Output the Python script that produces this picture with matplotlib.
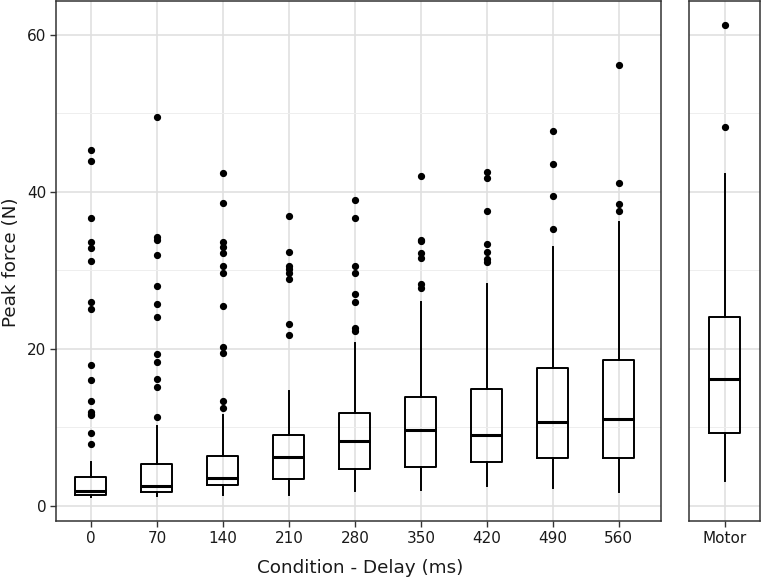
import matplotlib
matplotlib.use("Agg")
import matplotlib.pyplot as plt
import numpy as np

# ---------------- data ----------------
delay_labels = ["0", "70", "140", "210", "280", "350", "420", "490", "560"]

whislo = [1.05, 1.2, 1.3, 1.4, 1.9, 2.0, 2.5, 2.3, 1.75]
q1     = [1.36, 1.75, 2.63, 3.46, 4.7, 4.9, 5.6, 6.05, 6.14]
med    = [1.9, 2.46, 3.5, 6.2, 8.2, 9.7, 8.95, 10.6, 11.0]
q3     = [3.7, 5.35, 6.36, 9.0, 11.75, 13.8, 14.9, 17.5, 18.5]
whishi = [5.6, 10.1, 11.6, 14.6, 20.7, 25.9, 28.2, 32.9, 36.2]

outliers = [
    [45.3, 43.9, 36.6, 33.6, 32.8, 31.2, 26.0, 25.0, 17.9, 16.0, 13.4, 11.9, 11.7, 11.5, 9.2, 7.9],
    [49.5, 34.2, 33.9, 31.9, 28.0, 25.7, 24.1, 19.3, 18.3, 16.2, 15.1, 11.3],
    [42.4, 38.6, 33.6, 33.0, 32.2, 30.6, 29.6, 25.5, 20.2, 19.5, 13.3, 12.5],
    [36.9, 32.3, 30.6, 30.1, 29.6, 28.9, 23.2, 21.8],
    [38.9, 36.6, 30.6, 29.6, 27.0, 26.0, 22.6, 22.3],
    [42.0, 33.9, 33.7, 32.2, 31.6, 28.3, 27.7],
    [42.5, 41.8, 37.5, 33.3, 32.3, 31.4, 31.0],
    [47.8, 43.5, 39.5, 35.2],
    [56.1, 41.1, 38.4, 37.5],
]

motor_label = ["Motor"]
motor_whislo = [3.15]
motor_q1 = [9.26]
motor_med = [16.2]
motor_q3 = [24.0]
motor_whishi = [42.2]
motor_outliers = [[61.3, 48.2]]

y_label = "Peak force (N)"
x_label = "Condition - Delay (ms)"

# ---------------- style ----------------
W, H = 762, 578
DPI = 100
fig = plt.figure(figsize=(W / DPI, H / DPI), dpi=DPI)

def px_axes(x0, x1, y0, y1):
    return fig.add_axes([x0 / W, 1 - y1 / H, (x1 - x0) / W, (y1 - y0) / H])

ax1 = px_axes(56, 661, 1, 521)
ax2 = px_axes(689, 760, 1, 521)

grid_major = "#E0E0E0"
grid_minor = "#EEEEEE"
border = "#333333"
text_col = "#1A1A1A"
ylim = (-1.95, 64.3)

box_kw = dict(
    showfliers=True,
    widths=0.47,
    patch_artist=False,
    boxprops=dict(color="black", linewidth=1.4),
    whiskerprops=dict(color="black", linewidth=1.4),
    capprops=dict(linewidth=0),
    medianprops=dict(color="black", linewidth=2.2),
    flierprops=dict(marker="o", markerfacecolor="black", markeredgecolor="black",
                    markersize=4.2, linestyle="none"),
    manage_ticks=False,
)

def make_stats(labels, lo, a, m, b, hi, fl):
    stats = []
    for i in range(len(labels)):
        stats.append(dict(label=labels[i], whislo=lo[i], q1=a[i], med=m[i],
                          q3=b[i], whishi=hi[i], fliers=np.array(fl[i])))
    return stats

def style_axes(ax, n, xlim, show_y):
    ax.set_ylim(*ylim)
    ax.set_xlim(*xlim)
    ax.set_yticks([0, 20, 40, 60])
    ax.set_yticks([10, 30, 50], minor=True)
    ax.set_xticks(range(n))
    ax.set_axisbelow(True)
    ax.grid(True, which="major", axis="both", color=grid_major, linewidth=1.2)
    ax.grid(True, which="minor", axis="y", color=grid_minor, linewidth=0.7)
    for s in ax.spines.values():
        s.set_color(border)
        s.set_linewidth(1.1)
    ax.tick_params(axis="both", which="major", direction="out", length=4,
                   width=1.0, color=border, labelsize=11, labelcolor=text_col, pad=3)
    ax.tick_params(axis="y", which="minor", length=0)
    if not show_y:
        ax.tick_params(axis="y", which="major", length=0, labelleft=False)

stats1 = make_stats(delay_labels, whislo, q1, med, q3, whishi, outliers)
ax1.bxp(stats1, positions=range(len(delay_labels)), **box_kw)
style_axes(ax1, len(delay_labels), (-0.53, 8.64), True)
ax1.set_xticklabels(delay_labels)

stats2 = make_stats(motor_label, motor_whislo, motor_q1, motor_med, motor_q3,
                    motor_whishi, motor_outliers)
ax2.bxp(stats2, positions=[0], **box_kw)
style_axes(ax2, 1, (-0.538, 0.538), False)
ax2.set_xticklabels(motor_label)

fig.text(16 / W, 1 - 262 / H, y_label, rotation=90, rotation_mode="anchor",
         ha="center", va="baseline", fontsize=13.2, color=text_col)
fig.text(360 / W, 1 - 573 / H, x_label, ha="center", va="baseline",
         fontsize=13.2, color=text_col)

fig.savefig("out.png", dpi=DPI)
